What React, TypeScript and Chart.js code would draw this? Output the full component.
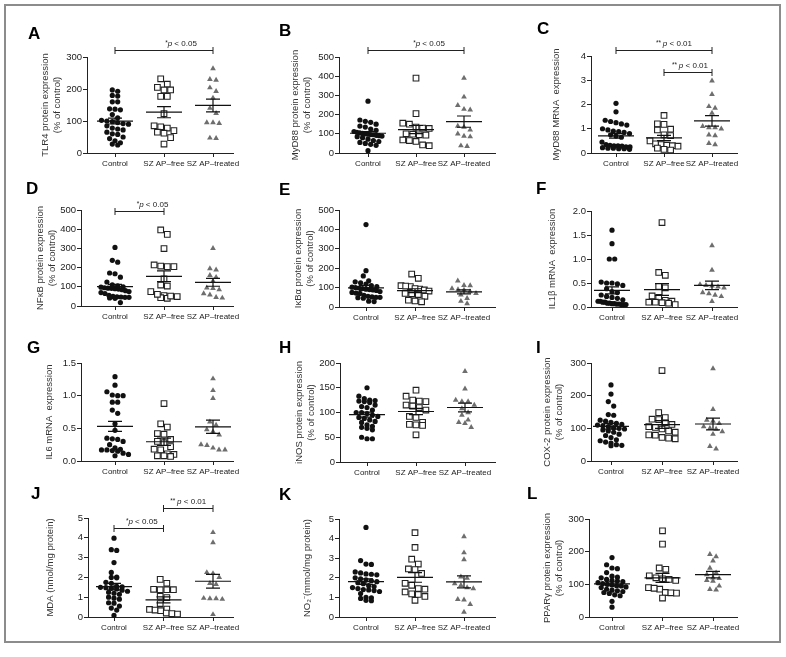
import React, { useEffect, useRef } from 'react';
import { Chart, registerables } from 'chart.js';
Chart.register(...registerables);

const FONT = "'Liberation Sans', Arial, Helvetica, sans-serif";
const groups = ['Control', 'SZ AP–free', 'SZ AP–treated'];

// ---- data ----
const tlr4Control = [193, 197, 180, 178, 160, 160, 137, 135, 138, 120, 110, 102, 100, 98, 95, 92, 90, 85, 78, 75, 72, 65, 60, 58, 50, 45, 38, 32, 28, 25];
const tlr4Free = [232, 215, 205, 197, 197, 177, 177, 123, 85, 82, 78, 70, 65, 62, 48, 28];
const tlr4Treated = [264, 230, 228, 204, 193, 172, 140, 124, 95, 93, 95, 46, 47];

const myd88Control = [270, 172, 165, 160, 150, 140, 135, 125, 118, 112, 108, 105, 102, 100, 98, 96, 95, 92, 90, 88, 85, 80, 72, 65, 60, 55, 50, 45, 40, 12];
const myd88Free = [390, 205, 155, 150, 135, 130, 128, 100, 98, 95, 93, 68, 65, 60, 42, 38];
const myd88Treated = [390, 292, 248, 228, 225, 140, 135, 120, 100, 88, 85, 38, 35];

const myd88mControl = [2.05, 1.7, 1.35, 1.3, 1.25, 1.2, 1.15, 1.0, 0.95, 0.9, 0.88, 0.85, 0.8, 0.75, 0.7, 0.65, 0.45, 0.35, 0.32, 0.3, 0.3, 0.28, 0.25, 0.25, 0.22, 0.2, 0.2, 0.18, 0.18, 0.15];
const myd88mFree = [1.55, 1.2, 1.18, 0.98, 0.95, 0.75, 0.72, 0.5, 0.38, 0.35, 0.32, 0.3, 0.28, 0.2, 0.15, 0.12];
const myd88mTreated = [2.98, 2.42, 1.92, 1.85, 1.65, 1.1, 1.05, 1.05, 1.0, 0.75, 0.72, 0.4, 0.35];

const nfkbControl = [305, 238, 228, 172, 168, 150, 125, 110, 105, 100, 98, 95, 93, 92, 90, 88, 85, 80, 75, 70, 65, 55, 50, 48, 47, 45, 45, 42, 40, 18];
const nfkbFree = [396, 373, 299, 214, 205, 205, 208, 141, 109, 104, 75, 54, 43, 40, 49, 52, 61];
const nfkbTreated = [300, 195, 188, 160, 150, 130, 95, 92, 85, 65, 58, 45, 42];

const ikbaControl = [425, 187, 160, 135, 130, 125, 118, 110, 105, 102, 100, 98, 95, 92, 90, 88, 85, 80, 75, 72, 70, 60, 55, 52, 50, 50, 48, 45, 30, 28];
const ikbaFree = [170, 148, 110, 105, 108, 92, 95, 88, 82, 68, 70, 64, 55, 35, 27, 31];
const ikbaTreated = [135, 112, 110, 95, 90, 88, 80, 70, 62, 45, 30, 18];

const il1bControl = [1.6, 1.32, 1.0, 1.0, 0.52, 0.5, 0.5, 0.48, 0.45, 0.38, 0.32, 0.3, 0.25, 0.22, 0.2, 0.18, 0.15, 0.12, 0.12, 0.1, 0.1, 0.08, 0.08, 0.07, 0.07, 0.06, 0.06, 0.05, 0.05, 0.05];
const il1bFree = [1.76, 0.72, 0.66, 0.43, 0.4, 0.23, 0.2, 0.14, 0.12, 0.1, 0.1, 0.09, 0.08, 0.05];
const il1bTreated = [1.28, 0.77, 0.47, 0.45, 0.44, 0.42, 0.4, 0.3, 0.28, 0.25, 0.22, 0.12];

const il6Control = [1.29, 1.16, 1.06, 1.01, 1.0, 1.0, 0.9, 0.9, 0.78, 0.73, 0.57, 0.47, 0.35, 0.34, 0.33, 0.3, 0.25, 0.2, 0.18, 0.17, 0.17, 0.16, 0.15, 0.12, 0.1, 0.08];
const il6Free = [0.88, 0.57, 0.52, 0.42, 0.41, 0.33, 0.3, 0.28, 0.22, 0.18, 0.17, 0.11, 0.1, 0.08, 0.07, 0.08];
const il6Treated = [1.26, 1.08, 0.96, 0.6, 0.48, 0.55, 0.45, 0.4, 0.25, 0.24, 0.2, 0.17, 0.17];

const inosControl = [150, 133, 128, 125, 124, 123, 122, 120, 115, 112, 110, 105, 100, 100, 98, 95, 92, 90, 88, 85, 82, 80, 75, 72, 70, 68, 65, 50, 47, 47];
const inosFree = [145, 133, 125, 123, 122, 115, 113, 110, 105, 92, 90, 80, 76, 75, 74, 55];
const inosTreated = [183, 148, 125, 122, 122, 115, 108, 100, 95, 85, 80, 78, 70];

const cox2Control = [233, 205, 182, 168, 142, 140, 125, 122, 118, 115, 112, 110, 108, 105, 102, 100, 98, 95, 92, 88, 82, 78, 72, 65, 62, 58, 55, 50, 48, 47];
const cox2Free = [277, 148, 133, 128, 127, 117, 112, 105, 103, 98, 92, 88, 80, 79, 72, 70, 68];
const cox2Treated = [283, 158, 125, 122, 115, 105, 100, 98, 90, 82, 45, 37];

const mdaControl = [3.98, 3.4, 3.36, 2.75, 2.25, 2.02, 2.0, 1.98, 1.75, 1.7, 1.55, 1.52, 1.5, 1.48, 1.45, 1.42, 1.35, 1.3, 1.25, 1.2, 1.15, 1.0, 0.95, 0.9, 0.72, 0.7, 0.55, 0.45, 0.35, 0.08];
const mdaFree = [1.9, 1.7, 1.4, 1.38, 1.38, 1.38, 1.05, 0.98, 0.68, 0.4, 0.38, 0.35, 0.32, 0.2, 0.17, 0.15];
const mdaTreated = [4.27, 3.76, 2.25, 2.2, 2.0, 1.7, 1.65, 0.95, 0.93, 0.93, 0.9, 0.13];

const no2Control = [4.57, 2.88, 2.7, 2.68, 2.3, 2.25, 2.2, 2.18, 2.15, 2.0, 1.95, 1.9, 1.85, 1.8, 1.75, 1.7, 1.6, 1.55, 1.5, 1.45, 1.4, 1.38, 1.35, 1.3, 1.2, 1.0, 0.98, 0.95, 0.85, 0.83];
const no2Free = [4.3, 3.55, 2.95, 2.7, 2.45, 2.42, 2.22, 1.72, 1.62, 1.45, 1.42, 1.28, 1.18, 1.15, 1.05, 0.85];
const no2Treated = [4.1, 3.28, 2.93, 2.05, 1.98, 1.7, 1.62, 1.5, 1.45, 0.9, 0.88, 0.65, 0.25];

const ppargControl = [182, 160, 150, 148, 136, 125, 122, 120, 115, 112, 110, 108, 105, 102, 100, 98, 96, 95, 92, 90, 85, 82, 80, 78, 75, 72, 68, 65, 48, 30];
const ppargFree = [264, 223, 150, 146, 126, 120, 117, 115, 112, 90, 85, 88, 75, 74, 73, 58];
const ppargTreated = [192, 185, 172, 150, 135, 130, 120, 118, 112, 110, 95, 85, 83];

// significance brackets
const bracketsA = [{ from: 1, to: 3, y: 322, stars: '*', p: '0.05', dx: 17 }];
const bracketsB = [{ from: 1, to: 3, y: 536, stars: '*', p: '0.05', dx: 13 }];
const bracketsC = [
  { from: 1, to: 3, y: 4.25, stars: '**', p: '0.01', dx: 10 },
  { from: 2, to: 3, y: 3.34, stars: '**', p: '0.01', dx: 2 },
];
const bracketsD = [{ from: 1, to: 2, y: 497, stars: '*', p: '0.05', dx: 13 }];
const bracketsJ = [
  { from: 1, to: 2, y: 4.5, stars: '*', p: '0.05', dx: 3 },
  { from: 2, to: 3, y: 5.5, stars: '**', p: '0.01', dx: 0 },
];

// ---- layout ----
const COLS = [0, 262, 524];
const ROWS = [
  { top: 0, h: 175 },
  { top: 165, h: 165 },
  { top: 322, h: 165 },
  { top: 478, h: 179 },
];
const XH = 16;
const TITLE_SIZE = 9.5;
const TITLE_LH = 1.25;

type Bracket = { from: number; to: number; y: number; stars: string; p: string; dx: number };
type Panel = {
  letter: string;
  letterAt: [number, number];
  title: string | string[];
  titleX: number;
  yMax: number;
  yStep: number;
  dec: number;
  data: number[][];
  brackets: Bracket[];
  col: number;
  row: number;
  box: { x0: number; xR: number; c1: number; c3: number; yT: number; yB: number };
};

const panels: Panel[] = [
  { letter: 'A', letterAt: [28, 39], title: ['TLR4 protein expression', '(% of control)'], titleX: 45, yMax: 300, yStep: 100, dec: 0, data: [tlr4Control, tlr4Free, tlr4Treated], brackets: bracketsA, col: 0, row: 0, box: { x0: 87, xR: 233, c1: 115, c3: 213, yT: 57, yB: 153 } },
  { letter: 'B', letterAt: [279, 36], title: ['MyD88 protein expression', '(% of control)'], titleX: 295, yMax: 500, yStep: 100, dec: 0, data: [myd88Control, myd88Free, myd88Treated], brackets: bracketsB, col: 1, row: 0, box: { x0: 339, xR: 495, c1: 368, c3: 464, yT: 57, yB: 153 } },
  { letter: 'C', letterAt: [537, 34], title: 'MyD88 MRNA  expression', titleX: 556, yMax: 4, yStep: 1, dec: 0, data: [myd88mControl, myd88mFree, myd88mTreated], brackets: bracketsC, col: 2, row: 0, box: { x0: 591, xR: 737, c1: 616, c3: 712, yT: 56, yB: 153 } },
  { letter: 'D', letterAt: [26, 194], title: ['NFκB protein expression', '(% of control)'], titleX: 40, yMax: 500, yStep: 100, dec: 0, data: [nfkbControl, nfkbFree, nfkbTreated], brackets: bracketsD, col: 0, row: 1, box: { x0: 81, xR: 233, c1: 115, c3: 213, yT: 210, yB: 306 } },
  { letter: 'E', letterAt: [279, 195], title: ['IκBα protein expression', '(% of control)'], titleX: 298, yMax: 500, yStep: 100, dec: 0, data: [ikbaControl, ikbaFree, ikbaTreated], brackets: [], col: 1, row: 1, box: { x0: 339, xR: 495, c1: 366, c3: 464, yT: 210, yB: 307 } },
  { letter: 'F', letterAt: [536, 194], title: 'IL1β mRNA  expression', titleX: 552, yMax: 2, yStep: 0.5, dec: 1, data: [il1bControl, il1bFree, il1bTreated], brackets: [], col: 2, row: 1, box: { x0: 591, xR: 737, c1: 612, c3: 712, yT: 211, yB: 307 } },
  { letter: 'G', letterAt: [27, 353], title: 'IL6 mRNA  expression', titleX: 49, yMax: 1.5, yStep: 0.5, dec: 1, data: [il6Control, il6Free, il6Treated], brackets: [], col: 0, row: 2, box: { x0: 81, xR: 233, c1: 115, c3: 213, yT: 363, yB: 461 } },
  { letter: 'H', letterAt: [279, 353], title: ['iNOS protein expression', '(% of control)'], titleX: 299, yMax: 200, yStep: 50, dec: 0, data: [inosControl, inosFree, inosTreated], brackets: [], col: 1, row: 2, box: { x0: 340, xR: 495, c1: 367, c3: 465, yT: 363, yB: 462 } },
  { letter: 'I', letterAt: [536, 353], title: ['COX-2 protein expression', '(% of control)'], titleX: 547, yMax: 300, yStep: 100, dec: 0, data: [cox2Control, cox2Free, cox2Treated], brackets: [], col: 2, row: 2, box: { x0: 591, xR: 737, c1: 611, c3: 713, yT: 363, yB: 461 } },
  { letter: 'J', letterAt: [31, 499], title: 'MDA (nmol/mg protein)', titleX: 50, yMax: 5, yStep: 1, dec: 0, data: [mdaControl, mdaFree, mdaTreated], brackets: bracketsJ, col: 0, row: 3, box: { x0: 88, xR: 233, c1: 114, c3: 213, yT: 518, yB: 617 } },
  { letter: 'K', letterAt: [279, 500], title: 'NO₂⁻(mmol/mg protein)', titleX: 307, yMax: 5, yStep: 1, dec: 0, data: [no2Control, no2Free, no2Treated], brackets: [], col: 1, row: 3, box: { x0: 339, xR: 495, c1: 366, c3: 464, yT: 519, yB: 617 } },
  { letter: 'L', letterAt: [527, 499], title: ['PPARγ protein expression', '(% of control)'], titleX: 547, yMax: 300, yStep: 100, dec: 0, data: [ppargControl, ppargFree, ppargTreated], brackets: [], col: 2, row: 3, box: { x0: 589, xR: 737, c1: 612, c3: 713, yT: 519, yB: 617 } },
];

// binned dot-plot offsets (pixels): values close in y share a row, spread horizontally
function swarm(vals: number[], pyScale: number, D: number, maxHalf: number): number[] {
  const idx = vals.map((_, i) => i).sort((a, b) => vals[b] - vals[a]);
  const out = new Array(vals.length).fill(0);
  let bin: number[] = [];
  let binTop = 0;
  const flush = () => {
    const k = bin.length;
    if (!k) return;
    const s = k > 1 ? Math.min(D, (2 * maxHalf) / (k - 1)) : 0;
    // order inside row: alternate around centre for a natural look
    bin.forEach((i, j) => {
      out[i] = (j - (k - 1) / 2) * s;
    });
    bin = [];
  };
  for (const i of idx) {
    const y = vals[i] * pyScale;
    if (bin.length && binTop - y > D * 0.9) flush();
    if (!bin.length) binTop = y;
    bin.push(i);
  }
  flush();
  return out;
}

function meanSem(v: number[]) {
  const n = v.length;
  const m = v.reduce((a, b) => a + b, 0) / n;
  const sd = Math.sqrt(v.reduce((a, b) => a + (b - m) ** 2, 0) / (n - 1));
  return { m, sem: sd / Math.sqrt(n) };
}

function drawSig(ctx: CanvasRenderingContext2D, cx: number, by: number, stars: string, p: string) {
  const parts = [
    { t: stars + (stars.length > 1 ? ' ' : ''), f: `6.5px ${FONT}`, dy: -1.5 },
    { t: 'p', f: `italic 8px ${FONT}`, dy: 0 },
    { t: ' < ' + p, f: `8px ${FONT}`, dy: 0 },
  ];
  let total = 0;
  const ws = parts.map((pt) => {
    ctx.font = pt.f;
    const w = ctx.measureText(pt.t).width;
    total += w;
    return w;
  });
  let x = cx - total / 2;
  ctx.textBaseline = 'alphabetic';
  ctx.textAlign = 'left';
  parts.forEach((pt, i) => {
    ctx.font = pt.f;
    ctx.fillText(pt.t, x, by + pt.dy);
    x += ws[i];
  });
}

function PanelChart({ p }: { p: Panel }) {
  const ref = useRef<HTMLCanvasElement>(null);
  const left = COLS[p.col];
  const top = ROWS[p.row].top;
  const w = 262;
  const h = ROWS[p.row].h;

  useEffect(() => {
    const b = p.box;
    const pxPerX = (b.c3 - b.c1) / 2;
    const xmin = 1 - (b.c1 - b.x0) / pxPerX;
    const xmax = 3 + (b.xR - b.c3) / pxPerX;
    const pyScale = (b.yB - b.yT) / p.yMax;
    const titleLH = TITLE_SIZE * TITLE_LH;
    const padLeft = p.titleX - left - titleLH / 2;
    const yWidth = b.x0 - left - padLeft;

    const styles = [
      { pointStyle: 'circle', radius: 2.6, bg: '#111', border: '#111', bw: 0, D: 5.4, half: 14 },
      { pointStyle: 'rect', radius: 4, bg: '#fff', border: '#222', bw: 1.1, D: 6.6, half: 14 },
      { pointStyle: 'triangle', radius: 3.3, bg: '#6e6e6e', border: '#6e6e6e', bw: 0, D: 6.2, half: 12 },
    ];

    const datasets = p.data.map((vals, g) => {
      const st = styles[g];
      const offs = swarm(vals, pyScale, st.D, st.half);
      return {
        label: groups[g],
        data: vals.map((v, i) => ({ x: g + 1 + offs[i] / pxPerX, y: v })),
        pointStyle: st.pointStyle,
        pointRadius: st.radius,
        pointBackgroundColor: st.bg,
        pointBorderColor: st.border,
        pointBorderWidth: st.bw,
        showLine: false,
        clip: false as any,
      };
    });

    const overlay = {
      id: 'overlay' + p.letter,
      afterDatasetsDraw(chart: any) {
        const ctx = chart.ctx;
        const xs = chart.scales.x;
        const ys = chart.scales.y;
        ctx.save();
        ctx.strokeStyle = '#111';
        ctx.lineWidth = 1.2;
        p.data.forEach((vals, g) => {
          const { m, sem } = meanSem(vals);
          const cx = xs.getPixelForValue(g + 1);
          const ym = ys.getPixelForValue(m);
          const yh = ys.getPixelForValue(m + sem);
          const yl = ys.getPixelForValue(m - sem);
          ctx.beginPath();
          ctx.moveTo(cx - 18, ym);
          ctx.lineTo(cx + 18, ym);
          ctx.moveTo(cx - 7, yh);
          ctx.lineTo(cx + 7, yh);
          ctx.moveTo(cx - 7, yl);
          ctx.lineTo(cx + 7, yl);
          ctx.moveTo(cx, yh);
          ctx.lineTo(cx, yl);
          ctx.stroke();
        });
        ctx.restore();
      },
      afterDraw(chart: any) {
        const ctx = chart.ctx;
        const xs = chart.scales.x;
        const ys = chart.scales.y;
        ctx.save();
        ctx.strokeStyle = '#222';
        ctx.fillStyle = '#222';
        ctx.lineWidth = 1;
        p.brackets.forEach((br) => {
          const x1 = xs.getPixelForValue(br.from);
          const x2 = xs.getPixelForValue(br.to);
          const y = Math.round(ys.getPixelForValue(br.y)) + 0.5;
          ctx.beginPath();
          ctx.moveTo(x1, y);
          ctx.lineTo(x2, y);
          ctx.moveTo(x1, y - 3.5);
          ctx.lineTo(x1, y + 3.5);
          ctx.moveTo(x2, y - 3.5);
          ctx.lineTo(x2, y + 3.5);
          ctx.stroke();
          drawSig(ctx, (x1 + x2) / 2 + br.dx, y - 4.5, br.stars, br.p);
        });
        ctx.fillStyle = '#000';
        ctx.font = `bold 17px ${FONT}`;
        ctx.textAlign = 'left';
        ctx.textBaseline = 'alphabetic';
        ctx.fillText(p.letter, p.letterAt[0] - left, p.letterAt[1] - top);
        ctx.restore();
      },
    };

    const chart = new Chart(ref.current as HTMLCanvasElement, {
      type: 'scatter',
      data: { datasets: datasets as any },
      options: {
        animation: false,
        responsive: false,
        maintainAspectRatio: false,
        events: [],
        layout: {
          padding: {
            left: padLeft,
            right: left + w - b.xR,
            top: b.yT - top,
            bottom: top + h - b.yB - XH,
          },
        },
        plugins: { legend: { display: false }, tooltip: { enabled: false } },
        scales: {
          x: {
            type: 'linear',
            min: xmin,
            max: xmax,
            afterBuildTicks: (s: any) => {
              s.ticks = [1, 2, 3].map((v) => ({ value: v }));
            },
            afterFit: (s: any) => {
              s.height = XH;
            },
            ticks: {
              callback: (v: any) => groups[Math.round(Number(v)) - 1],
              font: { family: FONT, size: 8 },
              color: '#222',
              padding: 2,
              maxRotation: 0,
              autoSkip: false,
            },
            grid: { display: true, drawOnChartArea: false, drawTicks: true, tickLength: 4, color: '#222' },
            border: { display: true, color: '#222', width: 1 },
          },
          y: {
            type: 'linear',
            min: 0,
            max: p.yMax,
            afterFit: (s: any) => {
              s.width = yWidth;
            },
            ticks: {
              stepSize: p.yStep,
              callback: (v: any) => Number(v).toFixed(p.dec),
              font: { family: FONT, size: 9.5 },
              color: '#222',
              padding: 1,
            },
            grid: { display: true, drawOnChartArea: false, drawTicks: true, tickLength: 4, color: '#222' },
            border: { display: true, color: '#222', width: 1 },
            title: {
              display: true,
              text: p.title,
              font: { family: FONT, size: TITLE_SIZE, lineHeight: TITLE_LH },
              color: '#333',
              padding: 0,
            },
          },
        },
      } as any,
      plugins: [overlay],
    });
    return () => chart.destroy();
  }, []);

  return (
    <canvas
      ref={ref}
      width={w}
      height={h}
      style={{ position: 'absolute', left, top, width: w, height: h }}
    />
  );
}

export default function App() {
  return (
    <div style={{ position: 'fixed', left: 0, top: 0, width: 786, height: 657, background: '#fff', overflow: 'hidden' }}>
      {panels.map((p) => (
        <PanelChart key={p.letter} p={p} />
      ))}
      <div
        style={{
          position: 'absolute',
          left: 4,
          top: 4,
          width: 777,
          height: 639,
          border: '2px solid #8c8c8c',
          boxSizing: 'border-box',
          pointerEvents: 'none',
        }}
      />
    </div>
  );
}
